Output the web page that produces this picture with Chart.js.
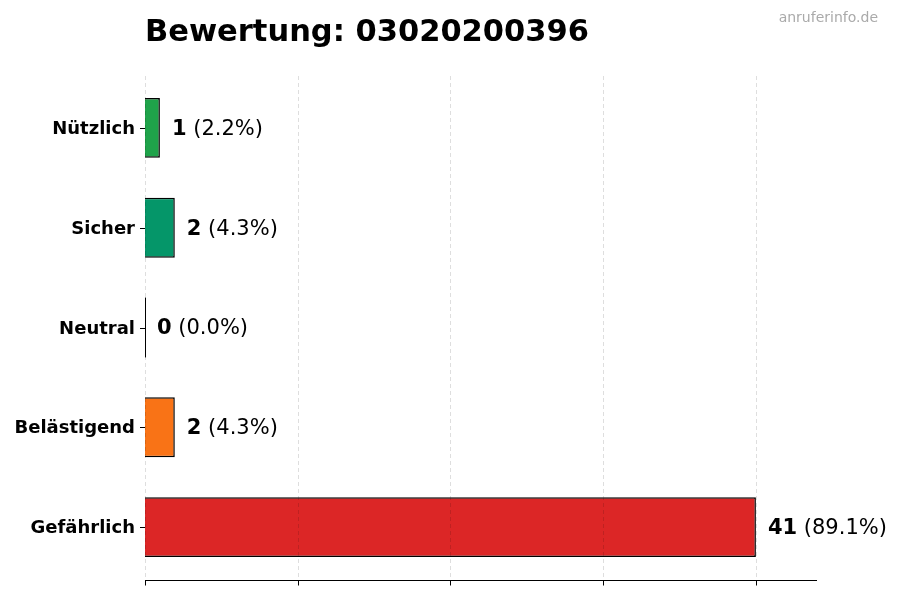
<!DOCTYPE html>
<html>
<head>
<meta charset="utf-8">
<script src="https://cdn.jsdelivr.net/npm/chart.js@4/dist/chart.umd.min.js"></script>
<style>
  html, body { margin: 0; padding: 0; background: #fff; }
  #wrap { width: 900px; height: 600px; }
</style>
</head>
<body>
<div id="wrap"><canvas id="chart" width="900" height="600"></canvas></div>
<script>
const categories = ["Nützlich", "Sicher", "Neutral", "Belästigend", "Gefährlich"];
const counts = [1, 2, 0, 2, 41];
const barColors = ["#1fa34a", "#059669", "#6b7280", "#f97316", "#dc2626"];
const xTicks = [0, 10.25, 20.5, 30.75, 41];
const xMax = 45.1;
const titleText = "Bewertung: 03020200396";
const watermark = "anruferinfo.de";

const total = counts.reduce((a, b) => a + b, 0);
const FONT = "'DejaVu Sans', sans-serif";

// grid, axis line, tick marks, value labels and title drawn on top of bars
const overlay = {
  id: "overlay",
  afterDatasetsDraw(chart) {
    const ctx = chart.ctx;
    const area = chart.chartArea;
    const x = chart.scales.x;
    const y = chart.scales.y;
    const spineY = area.bottom + 3.5;
    ctx.save();

    // dashed vertical grid over the bars
    ctx.strokeStyle = "rgba(0,0,0,0.13)";
    ctx.lineWidth = 1;
    ctx.setLineDash([4, 3]);
    xTicks.forEach((t) => {
      const px = Math.round(x.getPixelForValue(t)) + 0.5;
      ctx.beginPath();
      ctx.moveTo(px, area.top - 2);
      ctx.lineTo(px, spineY);
      ctx.stroke();
    });
    ctx.setLineDash([]);

    // bottom spine and tick marks
    ctx.strokeStyle = "#000";
    ctx.beginPath();
    ctx.moveTo(area.left, spineY);
    ctx.lineTo(area.right, spineY);
    ctx.stroke();
    xTicks.forEach((t) => {
      const px = Math.round(x.getPixelForValue(t)) + 0.5;
      ctx.beginPath();
      ctx.moveTo(px, spineY);
      ctx.lineTo(px, spineY + 5);
      ctx.stroke();
    });

    // y tick marks
    categories.forEach((c, i) => {
      const py = Math.round(y.getPixelForValue(i)) + 0.5;
      ctx.beginPath();
      ctx.moveTo(area.left - 5, py);
      ctx.lineTo(area.left, py);
      ctx.stroke();
    });

    // zero-width bar outline (Neutral)
    const meta = chart.getDatasetMeta(0);
    meta.data.forEach((bar, i) => {
      if (counts[i] === 0) {
        ctx.beginPath();
        ctx.moveTo(area.left + 0.5, bar.y - bar.height / 2);
        ctx.lineTo(area.left + 0.5, bar.y + bar.height / 2);
        ctx.stroke();
      }
    });

    // value labels
    ctx.fillStyle = "#000";
    ctx.textBaseline = "middle";
    ctx.textAlign = "left";
    meta.data.forEach((bar, i) => {
      const v = counts[i];
      const pct = " (" + (v / total * 100).toFixed(1) + "%)";
      let lx = bar.x + 12;
      ctx.font = "bold 21px " + FONT;
      ctx.fillText(String(v), lx, bar.y + 1.5);
      lx += ctx.measureText(String(v)).width;
      ctx.font = "21px " + FONT;
      ctx.fillText(pct, lx, bar.y + 1.5);
    });

    // title + watermark
    ctx.textBaseline = "alphabetic";
    ctx.font = "bold 30.5px " + FONT;
    ctx.fillText(titleText, 145, 41);
    ctx.font = "14px " + FONT;
    ctx.fillStyle = "#aaaaaa";
    ctx.textAlign = "right";
    ctx.fillText(watermark, 878, 22);

    ctx.restore();
  }
};

new Chart(document.getElementById("chart"), {
  type: "bar",
  data: {
    labels: categories,
    datasets: [{
      data: counts,
      backgroundColor: barColors,
      borderColor: "#000",
      borderWidth: 1.5,
      barPercentage: 0.6,
      categoryPercentage: 1.0,
    }],
  },
  options: {
    indexAxis: "y",
    responsive: false,
    animation: false,
    layout: { padding: { left: 0, top: 78, right: 83, bottom: 0 } },
    plugins: {
      legend: { display: false },
      tooltip: { enabled: false },
    },
    scales: {
      x: {
        min: 0,
        max: xMax,
        grid: { display: false },
        border: { display: false },
        ticks: { display: false },
        afterFit: (s) => { s.height = 23; },
      },
      y: {
        grid: { display: false },
        border: { display: false },
        ticks: {
          color: "#000",
          padding: 2,
          labelOffset: 1.5,
          font: { family: FONT, size: 18, weight: "bold" },
        },
        afterFit: (s) => { s.width = 145; },
      },
    },
  },
  plugins: [overlay],
});
</script>
</body>
</html>
